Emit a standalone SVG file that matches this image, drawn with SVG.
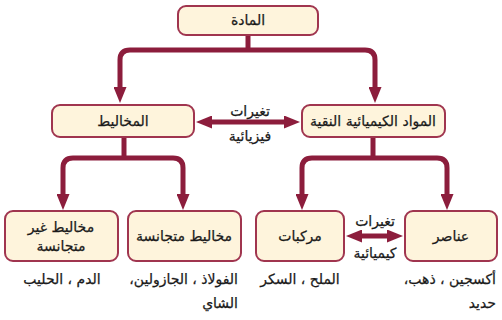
<svg xmlns="http://www.w3.org/2000/svg" width="502" height="320" viewBox="0 0 502 320">
<style>
.box{fill:#FEF4DC;stroke:#A0354F;stroke-width:2}
.ln{fill:none;stroke:#8C1D3C;stroke-width:5;stroke-linejoin:round}
.t{font-family:"DejaVu Sans",sans-serif;font-size:14px;fill:#1a1a1a;stroke:#1a1a1a;stroke-width:0.25;direction:rtl}
.c{text-anchor:middle}
.r{text-anchor:start}
</style>
<defs>
<marker id="ah" viewBox="0 0 16 13" refX="2" refY="6.5" markerWidth="16" markerHeight="13" markerUnits="userSpaceOnUse" orient="auto-start-reverse">
<path d="M0,0 L16,6.5 L0,13 z" fill="#8C1D3C"/>
</marker>
</defs>
<rect width="502" height="320" fill="#fff"/>
<g id="connectors">
<path class="ln" d="M248,35 V50"/>
<path class="ln" d="M120,89 V60 Q120,50 130,50 H365 Q375,50 375,60 V89" marker-start="url(#ah)" marker-end="url(#ah)"/>
<path class="ln" d="M124,137 V158"/>
<path class="ln" d="M63,196 V168 Q63,158 73,158 H173 Q183,158 183,168 V196" marker-start="url(#ah)" marker-end="url(#ah)"/>
<path class="ln" d="M373,137 V158"/>
<path class="ln" d="M302,196 V168 Q302,158 312,158 H437 Q447,158 447,168 V196" marker-start="url(#ah)" marker-end="url(#ah)"/>
<path class="ln" d="M210,122 H286" marker-start="url(#ah)" marker-end="url(#ah)"/>
<path class="ln" d="M360,236 H389" marker-start="url(#ah)" marker-end="url(#ah)"/>
<text class="t c" x="250" y="116">تغيرات</text>
<text class="t c" x="250" y="141">فيزيائية</text>
<text class="t c" x="375" y="226">تغيرات</text>
<text class="t c" x="375" y="258">كيميائية</text>
</g>
<g id="node-matter">
<rect class="box" x="178" y="6" width="140" height="29" rx="8"/>
<text class="t c" x="248" y="25">المادة</text>
</g>
<g id="node-mixtures">
<rect class="box" x="52" y="105" width="142" height="32" rx="8"/>
<text class="t c" x="123" y="126">المخاليط</text>
</g>
<g id="node-pure">
<rect class="box" x="302" y="105" width="143" height="32" rx="8"/>
<text class="t c" x="373" y="126">المواد الكيميائية النقية</text>
</g>
<g id="node-heterogeneous">
<rect class="box" x="5" y="211" width="113" height="50" rx="8"/>
<text class="t c" x="61" y="232">مخاليط غير</text>
<text class="t c" x="61" y="251">متجانسة</text>
<text class="t c" x="62" y="284">الدم ، الحليب</text>
</g>
<g id="node-homogeneous">
<rect class="box" x="128" y="211" width="113" height="50" rx="8"/>
<text class="t c" x="184" y="241">مخاليط متجانسة</text>
<text class="t r" x="238" y="284">الفولاذ ، الجازولين،</text>
<text class="t r" x="238" y="308">الشاي</text>
</g>
<g id="node-compounds">
<rect class="box" x="256" y="211" width="88" height="50" rx="8"/>
<text class="t c" x="300" y="241">مركبات</text>
<text class="t c" x="300" y="284">الملح ، السكر</text>
</g>
<g id="node-elements">
<rect class="box" x="405" y="211" width="92" height="50" rx="8"/>
<text class="t c" x="451" y="241">عناصر</text>
<text class="t r" x="496" y="284">أكسجين ، ذهب،</text>
<text class="t r" x="496" y="308">حديد</text>
</g>
</svg>
